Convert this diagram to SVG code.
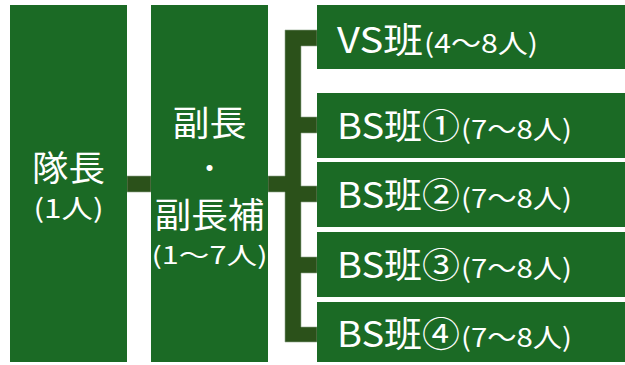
<svg xmlns="http://www.w3.org/2000/svg" width="625" height="365" viewBox="0 0 625 365">
<style>
.box{fill:#1b6a25}
.con{fill:#2b511a;stroke:#8fa58a;stroke-width:0.6}
.t{fill:#fff;font-family:"Noto Sans CJK JP","Noto Sans",sans-serif}
.big{font-size:35px}
.sm{font-size:26px}
.dot{font-size:28px}
.c{text-anchor:middle}
</style>
<rect width="625" height="365" fill="#fff"/>
<g id="connectors">
<rect class="con" x="127" y="176" width="24" height="16"/>
<path class="con" d="M268,176 H285 V30 H317 V46 H301 V117 H317 V133 H301 V186 H317 V202 H301 V257 H317 V273 H301 V327 H317 V342 H285 V192 H268 Z"/>
</g>
<g id="taichou">
<rect class="box" x="10" y="5" width="117" height="357"/>
<text class="t big c" x="68.5" y="181" textLength="73" lengthAdjust="spacingAndGlyphs">隊長</text>
<text class="t sm c" x="68.5" y="218" textLength="70" lengthAdjust="spacingAndGlyphs">(1人)</text>
</g>
<g id="fukuchou">
<rect class="box" x="151" y="5" width="117" height="357"/>
<text class="t big c" x="209.5" y="136" textLength="74" lengthAdjust="spacingAndGlyphs">副長</text>
<text class="t dot c" x="209.5" y="179">・</text>
<text class="t big c" x="209.5" y="228" textLength="110" lengthAdjust="spacingAndGlyphs">副長補</text>
<text class="t c" style="font-size:24px" x="209.5" y="264" textLength="116" lengthAdjust="spacingAndGlyphs">(1～7人)</text>
</g>
<g id="vs">
<rect class="box" x="317" y="5" width="308" height="64"/>
<text class="t big" x="337" y="53" textLength="86" lengthAdjust="spacingAndGlyphs">VS班</text>
<text class="t sm" x="424" y="53" textLength="114" lengthAdjust="spacingAndGlyphs">(4～8人)</text>
</g>
<g id="bs1">
<rect class="box" x="317" y="93" width="308" height="65"/>
<text class="t big" x="337" y="139" textLength="123" lengthAdjust="spacingAndGlyphs">BS班①</text>
<text class="t sm" x="461" y="139" textLength="111" lengthAdjust="spacingAndGlyphs">(7～8人)</text>
</g>
<g id="bs2">
<rect class="box" x="317" y="162" width="308" height="65"/>
<text class="t big" x="337" y="208" textLength="123" lengthAdjust="spacingAndGlyphs">BS班②</text>
<text class="t sm" x="461" y="208" textLength="111" lengthAdjust="spacingAndGlyphs">(7～8人)</text>
</g>
<g id="bs3">
<rect class="box" x="317" y="232" width="308" height="65"/>
<text class="t big" x="337" y="278" textLength="123" lengthAdjust="spacingAndGlyphs">BS班③</text>
<text class="t sm" x="461" y="278" textLength="111" lengthAdjust="spacingAndGlyphs">(7～8人)</text>
</g>
<g id="bs4">
<rect class="box" x="317" y="302" width="308" height="60"/>
<text class="t big" x="337" y="347" textLength="123" lengthAdjust="spacingAndGlyphs">BS班④</text>
<text class="t sm" x="461" y="347" textLength="111" lengthAdjust="spacingAndGlyphs">(7～8人)</text>
</g>
</svg>
